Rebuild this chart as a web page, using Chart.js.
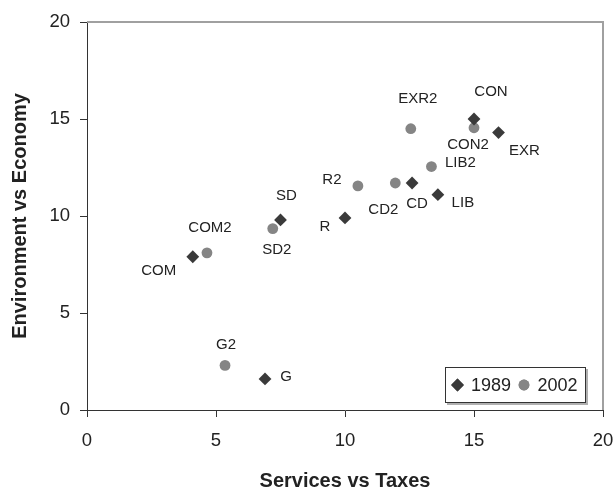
<!DOCTYPE html>
<html><head><meta charset="utf-8">
<script src="https://cdn.jsdelivr.net/npm/chart.js@4/dist/chart.umd.min.js"></script>
<style>html,body{margin:0;padding:0;background:#fff}#wrap{width:616px;height:491px;position:relative}</style>
</head><body><div id="wrap"><canvas id="c"></canvas></div>
<script>
const seriesNames = ['1989', '2002'];
const labels1989 = ['CON', 'EXR', 'CD', 'LIB', 'R', 'SD', 'COM', 'G'];
const x1989 = [15.0, 15.95, 12.6, 13.6, 10.0, 7.5, 4.1, 6.9];
const y1989 = [15.0, 14.3, 11.7, 11.1, 9.9, 9.8, 7.9, 1.6];
const labels2002 = ['EXR2', 'CON2', 'LIB2', 'CD2', 'R2', 'SD2', 'COM2', 'G2'];
const x2002 = [12.55, 15.0, 13.35, 11.95, 10.5, 7.2, 4.65, 5.35];
const y2002 = [14.5, 14.55, 12.55, 11.7, 11.55, 9.35, 8.1, 2.3];
const xTicks = [0, 5, 10, 15, 20];
const yTicks = [0, 5, 10, 15, 20];

// label placement offsets (pixels) relative to each point
const off1989 = [[17,-27],[26,18],[5,21],[25,8],[-20,9],[6,-24],[-34,14],[21,-2]];
const off2002 = [[7,-30],[-6,17],[29,-4],[-12,27],[-26,-6],[4,21],[3,-25],[1,-21]];

const FAM = "'Liberation Sans', Arial, sans-serif";
const TXT = '#222';

const pts = (xs, ys) => xs.map((x, i) => ({x: x, y: ys[i]}));

const pointLabels = {
  id: 'pointLabels',
  afterDatasetsDraw(chart) {
    const ctx = chart.ctx;
    const sets = [[labels1989, off1989], [labels2002, off2002]];
    ctx.save();
    ctx.font = '15px ' + FAM;
    ctx.fillStyle = TXT;
    ctx.textAlign = 'center';
    ctx.textBaseline = 'middle';
    sets.forEach((s, di) => {
      const meta = chart.getDatasetMeta(di);
      meta.data.forEach((el, i) => {
        ctx.fillText(s[0][i], el.x + s[1][i][0], el.y + s[1][i][1]);
      });
    });
    ctx.restore();
  }
};

const frame = {
  id: 'frame',
  beforeDatasetsDraw(chart) {
    const {ctx, chartArea: a} = chart;
    ctx.save();
    ctx.strokeStyle = '#a0a0a0';
    ctx.lineWidth = 2;
    ctx.beginPath();
    ctx.moveTo(a.left, a.top);
    ctx.lineTo(a.right, a.top);
    ctx.lineTo(a.right, a.bottom);
    ctx.stroke();
    ctx.restore();
  }
};

const boxLegend = {
  id: 'boxLegend',
  afterDraw(chart) {
    const {ctx, chartArea: a} = chart;
    const w = 141, h = 36;
    const x0 = a.right - 17 - w, y0 = a.bottom - 7 - h;
    ctx.save();
    ctx.fillStyle = '#b0b0b0';
    ctx.fillRect(x0 + 2, y0 + 2, w, h);
    ctx.fillStyle = '#fff';
    ctx.fillRect(x0, y0, w, h);
    ctx.strokeStyle = '#333';
    ctx.lineWidth = 1;
    ctx.strokeRect(x0 + 0.5, y0 + 0.5, w - 1, h - 1);
    const cy = y0 + h / 2;
    const ds = chart.data.datasets;
    const items = [[12.5, 26], [79, 92.5]];
    ctx.font = '18px ' + FAM;
    ctx.textBaseline = 'middle';
    ctx.textAlign = 'left';
    ds.forEach((d, i) => {
      ctx.fillStyle = d.backgroundColor;
      ctx.strokeStyle = d.backgroundColor;
      ctx.beginPath();
      Chart.helpers.drawPoint(ctx, {pointStyle: d.pointStyle, radius: d.pointRadius, borderWidth: 0}, x0 + items[i][0], cy);
      ctx.fill();
      ctx.fillStyle = TXT;
      ctx.fillText(d.label, x0 + items[i][1], cy + 1);
    });
    ctx.restore();
  }
};

new Chart(document.getElementById('c'), {
  type: 'scatter',
  data: {
    datasets: [
      {label: seriesNames[0], data: pts(x1989, y1989), pointStyle: 'rectRot', pointRadius: 6.4,
       backgroundColor: '#3a3a3a', borderWidth: 0},
      {label: seriesNames[1], data: pts(x2002, y2002), pointStyle: 'circle', pointRadius: 5.4,
       backgroundColor: '#858585', borderWidth: 0}
    ]
  },
  options: {
    responsive: true,
    maintainAspectRatio: false,
    animation: false,
    events: [],
    layout: {padding: {top: 22, right: 13, left: 0, bottom: 0}},
    plugins: {legend: {display: false}, tooltip: {enabled: false}},
    scales: {
      x: {
        type: 'linear', min: 0, max: 20,
        afterBuildTicks: s => { s.ticks = xTicks.map(v => ({value: v})); },
        afterFit: s => { s.height = 81; s.paddingRight = 0; s.paddingLeft = 0; },
        grid: {drawOnChartArea: false, drawTicks: true, tickLength: 7, tickColor: '#333', tickWidth: 1},
        border: {display: true, color: '#333', width: 1},
        ticks: {padding: 13, color: TXT, font: {family: FAM, size: 18.5, lineHeight: 1.2}},
        title: {display: true, text: 'Services vs Taxes', color: TXT,
                font: {family: FAM, size: 20, weight: 'bold', lineHeight: 1}, padding: {top: 0, bottom: 0}}
      },
      y: {
        type: 'linear', min: 0, max: 20,
        afterBuildTicks: s => { s.ticks = yTicks.map(v => ({value: v})); },
        afterFit: s => { s.width = 87; s.paddingTop = 0; s.paddingBottom = 0; },
        grid: {drawOnChartArea: false, drawTicks: true, tickLength: 7, tickColor: '#333', tickWidth: 1},
        border: {display: true, color: '#333', width: 1},
        ticks: {padding: 10, color: TXT, font: {family: FAM, size: 18.5, lineHeight: 1.2}},
        title: {display: true, text: 'Environment vs Economy', color: TXT,
                font: {family: FAM, size: 20, weight: 'bold', lineHeight: 1}, padding: {top: 10.5, bottom: 0}}
      }
    }
  },
  plugins: [frame, pointLabels, boxLegend]
});
</script>
</body></html>
